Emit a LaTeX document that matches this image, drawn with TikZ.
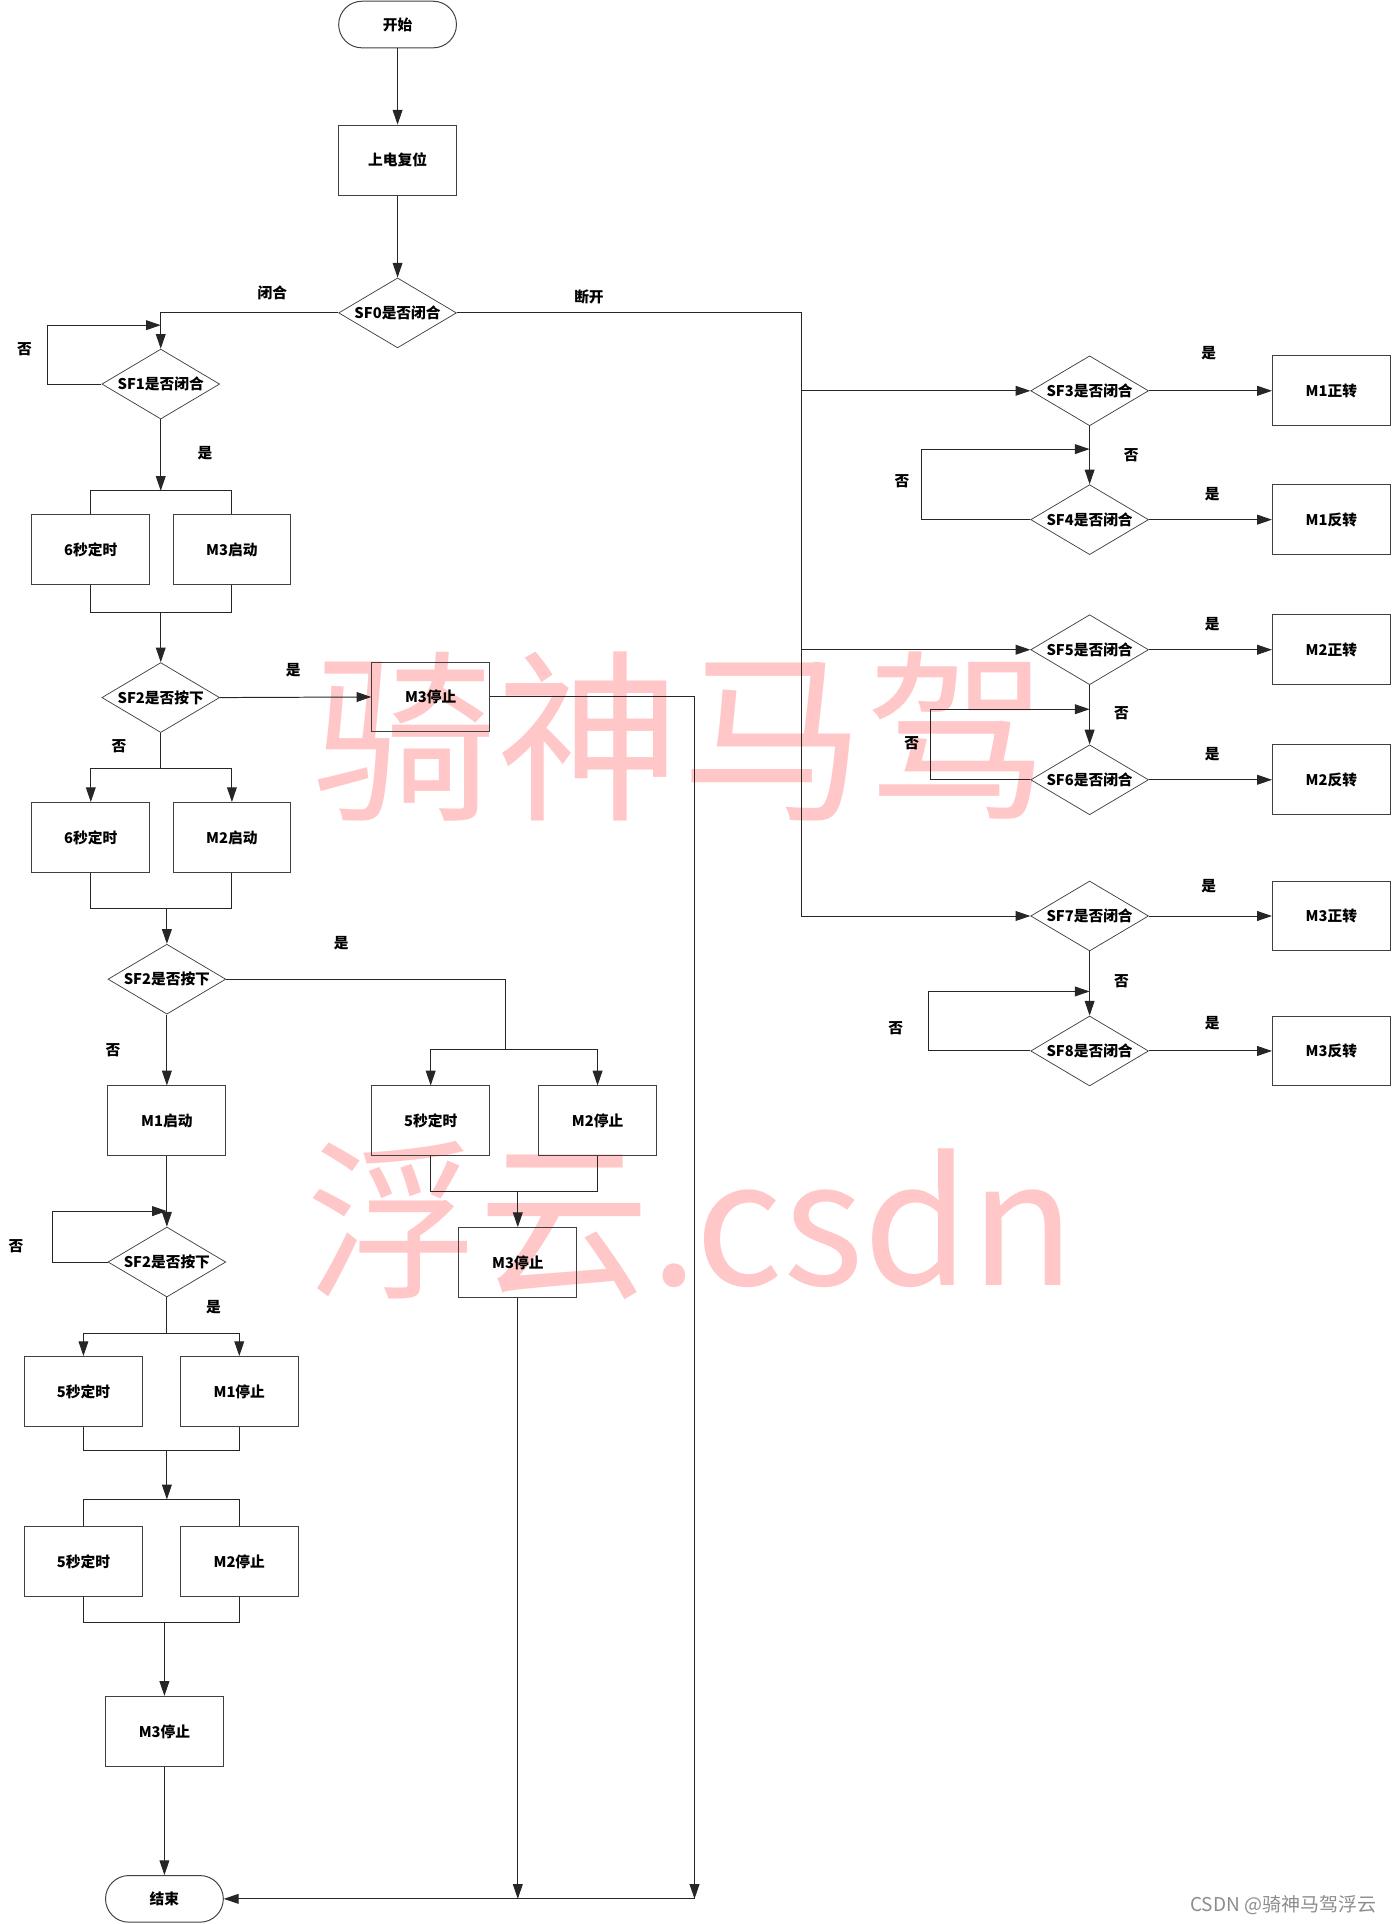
\documentclass[tikz,border=0pt]{standalone}
\usepackage{fontspec}
\setmainfont{Noto Sans CJK SC}
\usetikzlibrary{arrows.meta,shapes.geometric,calc}
\newcommand{\flabel}{\fontsize{12}{12}\selectfont\bfseries}
\begin{document}
\begin{tikzpicture}[x=1pt,y=-1pt,
  line/.style={draw=black!85, line width=0.8pt},
  arr/.style={line, -{Triangle[length=12pt,width=8pt]}},
  box/.style={draw=black!75, line width=0.8pt, minimum width=96pt, minimum height=57pt, inner sep=0pt, font=\flabel},
  dia/.style={diamond, draw=black!75, line width=0.6pt, minimum width=96pt, minimum height=57pt, inner sep=0pt, aspect=1.7, font=\flabel},
  term/.style={draw=black!75, line width=0.8pt, rounded corners=19pt, minimum width=96pt, minimum height=38pt, inner sep=0pt, font=\flabel},
  lab/.style={font=\flabel, inner sep=0pt},
  wm/.style={text=red!22, inner sep=0pt}]
\useasboundingbox (0,0) rectangle (1134,1568);
% watermark
\node[wm, font=\fontsize{150}{150}\selectfont] (wm1) at (555,600) {骑神马驾};
\node[wm, font=\fontsize{140}{140}\selectfont] (wm2) at (563,995) {浮云.csdn};
% left column
\node[term] (start) at (324,20) {开始};
\node[box] (reset) at (324,130.5) {上电复位};
\node[dia] (sf0) at (324,255) {SF0是否闭合};
\node[dia] (sf1) at (131,313) {SF1是否闭合};
\node[box] (t6a) at (74,448) {6秒定时};
\node[box] (m3s) at (189,448) {M3启动};
\node[dia] (sf2a) at (131,568.5) {SF2是否按下};
\node[box] (m3stopA) at (351,568) {M3停止};
\node[box] (t6b) at (74,682.5) {6秒定时};
\node[box] (m2s) at (189,682.5) {M2启动};
\node[dia] (sf2b) at (136,798) {SF2是否按下};
\node[box] (m1s) at (136,913.5) {M1启动};
\node[box] (t5a) at (351,913.5) {5秒定时};
\node[box] (m2stopA) at (487,913.5) {M2停止};
\node[box] (m3stopB) at (422,1029) {M3停止};
\node[dia] (sf2c) at (136,1028.5) {SF2是否按下};
\node[box] (t5b) at (68,1134) {5秒定时};
\node[box] (m1stop) at (195,1134) {M1停止};
\node[box] (t5c) at (68,1272.5) {5秒定时};
\node[box] (m2stopB) at (195,1272.5) {M2停止};
\node[box] (m3stopC) at (134,1411) {M3停止};
\node[term] (end) at (134,1547.5) {结束};
% right column
\node[dia] (sf3) at (888,318.5) {SF3是否闭合};
\node[box] (m1f) at (1085,318.5) {M1正转};
\node[dia] (sf4) at (888,423.5) {SF4是否闭合};
\node[box] (m1r) at (1085,423.5) {M1反转};
\node[dia] (sf5) at (888,529.5) {SF5是否闭合};
\node[box] (m2f) at (1085,529.5) {M2正转};
\node[dia] (sf6) at (888,635.5) {SF6是否闭合};
\node[box] (m2r) at (1085,635.5) {M2反转};
\node[dia] (sf7) at (888,746.5) {SF7是否闭合};
\node[box] (m3f) at (1085,746.5) {M3正转};
\node[dia] (sf8) at (888,856.5) {SF8是否闭合};
\node[box] (m3r) at (1085,856.5) {M3反转};
% coordinates
\coordinate (l1) at (39,265);
\coordinate (l1e) at (131,265);
\coordinate (b1) at (131,400);
\coordinate (b2) at (131,499);
\coordinate (b3) at (131,626);
\coordinate (b4) at (136,740);
\coordinate (b5) at (412,855);
\coordinate (b6) at (422,971);
\coordinate (j1) at (566,1547.5);
\coordinate (j2) at (422,1547.5);
\coordinate (l3) at (43,987);
\coordinate (l3e) at (136,987);
\coordinate (b7) at (136,1087);
\coordinate (b8) at (136,1182);
\coordinate (b9) at (136,1222);
\coordinate (b10) at (134,1322);
\coordinate (r1) at (653,318.5);
\coordinate (r2) at (653,529.5);
\coordinate (r3) at (653,746.5);
\coordinate (l4) at (751,366);
\coordinate (l4e) at (888,366);
\coordinate (l5) at (758,578);
\coordinate (l5e) at (888,578);
\coordinate (l6) at (757,808);
\coordinate (l6e) at (888,808);
% connectors left
\draw[arr] (start) -- (reset);
\draw[arr] (reset) -- (sf0);
\draw[arr] (sf0.west) -| (sf1.north);
\draw[arr] (sf1.west) -| (l1) -- (l1e);
\draw[arr] (sf1.south) -- (b1);
\draw[line] (t6a.north) |- (b1) -| (m3s.north);
\draw[line] (t6a.south) |- (b2) -| (m3s.south);
\draw[arr] (b2) -- (sf2a.north);
\draw[arr] (sf2a.east) -- (m3stopA.west);
\draw[arr] (m3stopA.east) -| (j1);
\draw[line] (sf2a.south) -- (b3);
\draw[arr] (b3) -| (t6b.north);
\draw[arr] (b3) -| (m2s.north);
\draw[line] (t6b.south) |- (b4) -| (m2s.south);
\draw[arr] (b4) -- (sf2b.north);
\draw[line] (sf2b.east) -| (b5);
\draw[arr] (b5) -| (t5a.north);
\draw[arr] (b5) -| (m2stopA.north);
\draw[line] (t5a.south) |- (b6) -| (m2stopA.south);
\draw[arr] (b6) -- (m3stopB.north);
\draw[arr] (m3stopB.south) -- (j2);
\draw[arr] (sf2b.south) -- (m1s.north);
\draw[arr] (m1s.south) -- (sf2c.north);
\draw[arr] (sf2c.west) -| (l3) -- (l3e);
\draw[line] (sf2c.south) -- (b7);
\draw[arr] (b7) -| (t5b.north);
\draw[arr] (b7) -| (m1stop.north);
\draw[line] (t5b.south) |- (b8) -| (m1stop.south);
\draw[arr] (b8) -- (b9);
\draw[line] (t5c.north) |- (b9) -| (m2stopB.north);
\draw[line] (t5c.south) |- (b10) -| (m2stopB.south);
\draw[arr] (b10) -- (m3stopC.north);
\draw[arr] (m3stopC.south) -- (end.north);
\draw[arr] (j1) -- (end.east);
% connectors right
\draw[line] (sf0.east) -| (r3);
\draw[arr] (r1) -- (sf3.west);
\draw[arr] (r2) -- (sf5.west);
\draw[arr] (r3) -- (sf7.west);
\draw[arr] (sf3.east) -- (m1f.west);
\draw[arr] (sf3.south) -- (sf4.north);
\draw[arr] (sf4.east) -- (m1r.west);
\draw[arr] (sf4.west) -| (l4) -- (l4e);
\draw[arr] (sf5.east) -- (m2f.west);
\draw[arr] (sf5.south) -- (sf6.north);
\draw[arr] (sf6.east) -- (m2r.west);
\draw[arr] (sf6.west) -| (l5) -- (l5e);
\draw[arr] (sf7.east) -- (m3f.west);
\draw[arr] (sf7.south) -- (sf8.north);
\draw[arr] (sf8.east) -- (m3r.west);
\draw[arr] (sf8.west) -| (l6) -- (l6e);
% labels
\node[lab] (la1) at (222,239) {闭合};
\node[lab] (la2) at (480,242) {断开};
\node[lab] (la3) at (20,285) {否};
\node[lab] (la4) at (167,369) {是};
\node[lab] (la5) at (239,546) {是};
\node[lab] (la6) at (97,608) {否};
\node[lab] (la7) at (278,769) {是};
\node[lab] (la8) at (92,856) {否};
\node[lab] (la9) at (13,1016) {否};
\node[lab] (la10) at (174,1065) {是};
\node[lab] (lb1) at (985,288) {是};
\node[lab] (lb2) at (922,371) {否};
\node[lab] (lb3) at (988,403) {是};
\node[lab] (lb4) at (735,392) {否};
\node[lab] (lb5) at (988,509) {是};
\node[lab] (lb6) at (914,581) {否};
\node[lab] (lb7) at (988,615) {是};
\node[lab] (lb8) at (743,606) {否};
\node[lab] (lb9) at (985,722) {是};
\node[lab] (lb10) at (914,800) {否};
\node[lab] (lb11) at (988,834) {是};
\node[lab] (lb12) at (730,838) {否};
\node[anchor=east, text=black!45, inner sep=0pt, font=\fontsize{15.5}{15.5}\selectfont] (csdn) at (1122,1553) {CSDN @骑神马驾浮云};
\end{tikzpicture}
\end{document}
